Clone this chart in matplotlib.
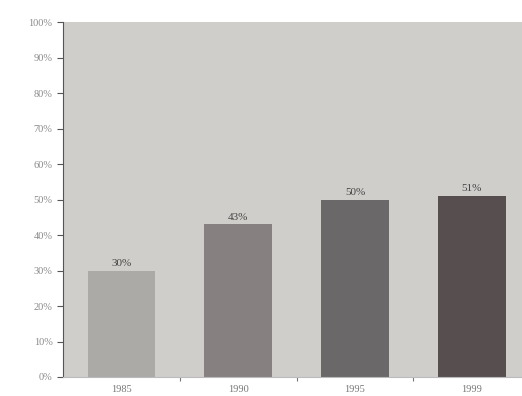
import matplotlib.pyplot as plt
import numpy as np

years = ['1985', '1990', '1995', '1999']
shares = [30, 43, 50, 51]
bar_colors = ['#abaaa7', '#878080', '#6a6868', '#574f4f']

plt.rcParams['font.family'] = ['Liberation Serif', 'DejaVu Serif']

fig = plt.figure(figsize=(5.22, 3.96), dpi=100)
ax = fig.add_axes([0.1207, 0.048, 0.895, 0.896])
ax.set_facecolor('#cfcecb')

x = np.arange(len(years))
bars = ax.bar(x, shares, width=0.58, color=bar_colors, zorder=2)
for b, v in zip(bars, shares):
    ax.text(b.get_x() + b.get_width() / 2, v + 0.8, f'{v}%', ha='center', va='bottom',
            fontsize=8, color='#444444')

ax.set_xlim(-0.5, 3.5)
ax.set_ylim(0, 100)
ax.set_yticks(np.arange(0, 101, 10))
ax.set_yticklabels([f'{t}%' for t in range(0, 101, 10)])
ax.set_xticks([0.5, 1.5, 2.5])
ax.set_xticklabels([])
ax.set_xticks(x, minor=True)
ax.set_xticklabels(years, minor=True)
ax.tick_params(axis='x', which='minor', length=0, pad=6, labelsize=7.5, labelcolor='#777777')
ax.tick_params(axis='x', which='major', length=3, color='#777777')
ax.tick_params(axis='y', length=4, labelsize=7.5, labelcolor='#8a8a8a', color='#555555')

for s in ['top', 'right']:
    ax.spines[s].set_visible(False)
ax.spines['left'].set_color('#555555')
ax.spines['bottom'].set_color('#bbbbbb')

fig.savefig('out.png', dpi=100)
